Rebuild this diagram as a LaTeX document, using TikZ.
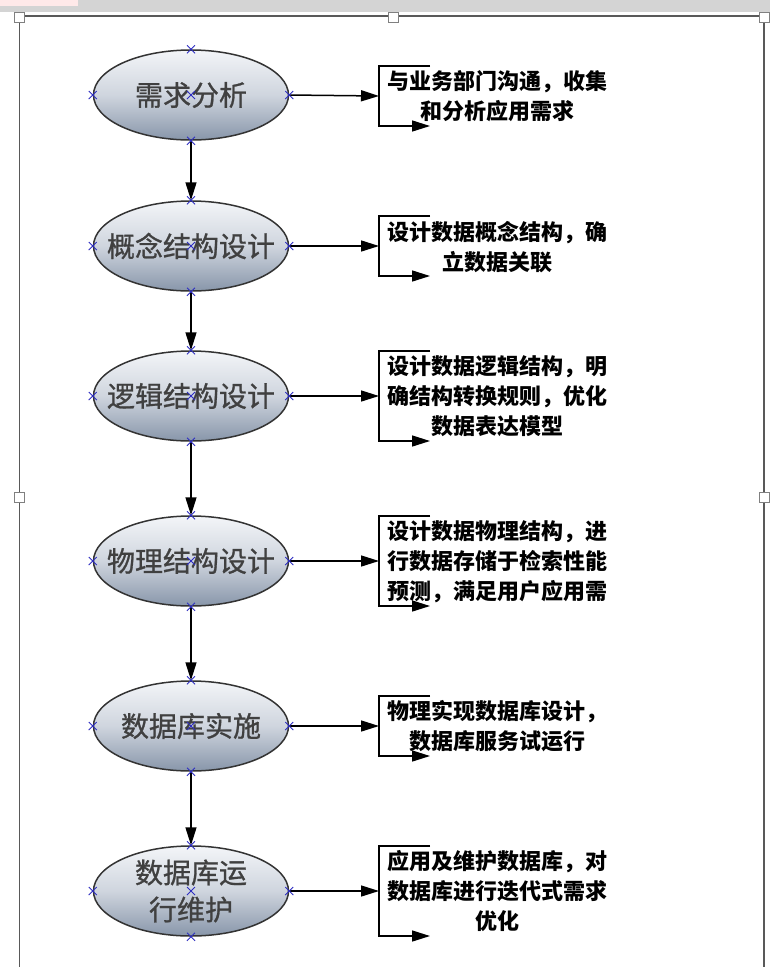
\documentclass[tikz,border=0pt]{standalone}
\usepackage{fontspec}
\setmainfont{Noto Sans CJK SC}
\newfontfamily\stagefont{Noto Sans CJK SC}[FakeBold=0.9]
\usetikzlibrary{shapes.geometric,shapes.misc,arrows.meta}
\definecolor{stagetop}{HTML}{F3F5F8}
\definecolor{stagemid}{HTML}{CFD5DE}
\definecolor{stagebot}{HTML}{8896AA}
\definecolor{cpblue}{HTML}{2E2EC2}
\tikzset{
 stage/.style={ellipse,draw=black!80,line width=1.5pt,top color=stagetop,bottom color=stagebot,middle color=stagemid,
   minimum width=195pt,minimum height=90pt,inner sep=0pt,
   label={[align=center,inner sep=0pt,text=black!75,font=\stagefont\fontsize{28}{37}\selectfont]center:{#1}}},
 note/.style={align=center,inner sep=0pt,font=\fontsize{22}{30}\selectfont\bfseries},
 arr/.style={-{Triangle[length=18pt,width=11pt]},line width=1.5pt},
 cp/.style={cross out,draw=cpblue,line width=1pt,minimum size=7pt,inner sep=0pt},
 handle/.style={rectangle,draw=black!50,fill=white,line width=1pt,minimum size=10pt,inner sep=0pt}
}
\begin{document}
\begin{tikzpicture}[x=1pt,y=-1pt]
 \useasboundingbox[fill=white] (0,0) rectangle (770,967);
 \draw[black!65,line width=1.2pt] (19.5,967) -- (19.5,16) -- (764,16) -- (764,967);
 \foreach \p in {(19.5,17),(393,17),(764,17),(19.5,497),(764,497)}
  \node[handle] at \p {};
 \fill[black!17] (0,0) rectangle (770,12);
 \fill[pink!35] (0,0) rectangle (78,6);

 \node[stage=需求分析] (ana) at (191,95) {};
 \node[stage=概念结构设计] (con) at (191,246) {};
 \node[stage=逻辑结构设计] (log) at (191,396) {};
 \node[stage=物理结构设计] (phy) at (191,561) {};
 \node[stage=数据库实施] (imp) at (191,726) {};
 \node[stage=数据库运\\行维护] (run) at (191,891) {};

 \node[note] (anat) at (497,96) {与业务部门沟通，收集\\和分析应用需求};
 \node[note] (cont) at (497,247) {设计数据概念结构，确\\立数据关联};
 \node[note] (logt) at (497,396) {设计数据逻辑结构，明\\确结构转换规则，优化\\数据表达模型};
 \node[note] (phyt) at (497,562) {设计数据物理结构，进\\行数据存储于检索性能\\预测，满足用户应用需};
 \node[note] (impt) at (497,726) {物理实现数据库设计，\\数据库服务试运行};
 \node[note] (runt) at (497,891) {应用及维护数据库，对\\数据库进行迭代式需求\\优化};

 \foreach \a/\b in {ana/con,con/log,log/phy,phy/imp,imp/run}
  \draw[arr] (\a.south) -- (\b.north);
 \foreach \n/\y/\h in {ana/96/30,con/246/30,log/396/45,phy/561/45,imp/726/30,run/891/45} {
  \coordinate (\n b) at (379,\y);
  \draw[arr] (\n.east) -- (\n b);
  \draw[arr] (430,\y-\h) -- (379,\y-\h) -- (379,\y+\h) -- (430,\y+\h);
 }
 \foreach \n in {ana,con,log,phy,imp,run}
  \foreach \a in {north,south,east,west,center}
   \node[cp] at (\n.\a) {};
\end{tikzpicture}
\end{document}
